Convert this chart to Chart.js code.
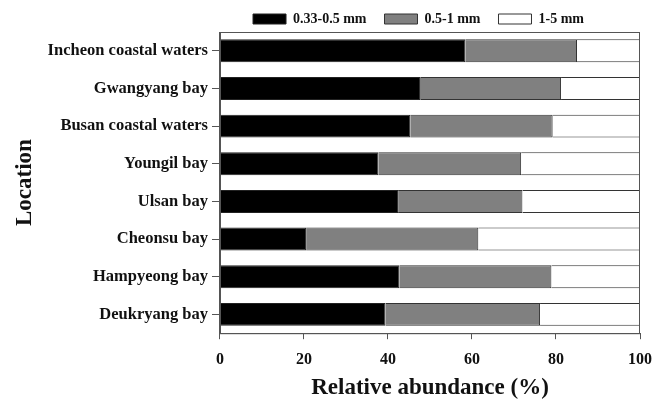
<!DOCTYPE html>
<html>
<head>
<meta charset="utf-8">
<script src="https://cdn.jsdelivr.net/npm/chart.js@4"></script>
<style>
  html, body { margin: 0; padding: 0; background: #fff; }
  #wrap { width: 671px; height: 407px; }
</style>
</head>
<body>
<div id="wrap"><canvas id="abundanceChart" width="671" height="407"></canvas></div>
<script>
const locations = [
    'Incheon coastal waters',
    'Gwangyang bay',
    'Busan coastal waters',
    'Youngil bay',
    'Ulsan bay',
    'Cheonsu bay',
    'Hampyeong bay',
    'Deukryang bay'
];
// percentages
const small = [58.4, 47.8, 45.3, 37.7, 42.4, 20.5, 42.7, 39.4];   // 0.33-0.5 mm
const medium = [26.6, 33.4, 33.9, 34.0, 29.6, 41.0, 36.2, 36.8];  // 0.5-1 mm
const large = [15.0, 18.8, 20.8, 28.3, 28.0, 38.5, 21.1, 23.8];   // 1-5 mm
const xTicks = [0, 20, 40, 60, 80, 100];

const serif = 'Liberation Serif';

// box round the plot area
const frame = {
    id: 'frame',
    afterDatasetsDraw(chart) {
        const a = chart.chartArea;
        const ctx = chart.ctx;
        ctx.save();
        ctx.strokeStyle = '#555';
        ctx.lineWidth = 1;
        ctx.strokeRect(a.left + 0.5, a.top + 0.5, a.right - a.left - 1, a.bottom - a.top);
        ctx.restore();
    }
};

// legend sits over the plot, a bit right of the canvas middle
const legendShift = {
    id: 'legendShift',
    afterLayout(chart) {
        const lg = chart.legend;
        lg.left += 93;
        lg.right += 93;
        lg.top += 4;
        lg.bottom += 4;
    }
};

let abundanceChart = new Chart(
    document.getElementById('abundanceChart'),
    {
        type: 'bar',
        data: {
            labels: locations,
            datasets: [{
                label: '0.33-0.5 mm',
                data: small,
                backgroundColor: '#000',
                borderColor: '#222',
                borderWidth: 1
            }, {
                label: '0.5-1 mm',
                data: medium,
                backgroundColor: '#808080',
                borderColor: '#333',
                borderWidth: 1
            }, {
                label: '1-5 mm',
                data: large,
                backgroundColor: '#fff',
                borderColor: '#333',
                borderWidth: 1
            }]
        },
        options: {
            indexAxis: 'y',
            responsive: false,
            animation: false,
            devicePixelRatio: 1,
            layout: { padding: { left: 11, right: 31, top: -10, bottom: 5 } },
            datasets: {
                bar: { categoryPercentage: 1, barPercentage: 0.61 }
            },
            scales: {
                x: {
                    stacked: true,
                    min: 0,
                    max: 100,
                    afterBuildTicks: (axis) => { axis.ticks = xTicks.map(v => ({ value: v })); },
                    grid: { drawOnChartArea: false, tickLength: 6, color: '#555' },
                    border: { color: '#555' },
                    ticks: {
                        color: '#111',
                        padding: 11,
                        font: { family: serif, size: 16, weight: 'bold' }
                    },
                    title: {
                        display: true,
                        text: 'Relative abundance (%)',
                        color: '#111',
                        padding: { top: -6, bottom: 0 },
                        font: { family: serif, size: 23, weight: 'bold' }
                    }
                },
                y: {
                    stacked: true,
                    grid: { drawOnChartArea: false, offset: false, tickLength: 8, color: '#555' },
                    border: { color: '#555' },
                    ticks: {
                        color: '#111',
                        padding: 4,
                        font: { family: serif, size: 16.5, weight: 'bold' }
                    },
                    title: {
                        display: true,
                        text: 'Location',
                        color: '#111',
                        padding: { top: 0, bottom: 5 },
                        font: { family: serif, size: 23, weight: 'bold' }
                    }
                }
            },
            plugins: {
                legend: {
                    display: true,
                    position: 'top',
                    align: 'center',
                    labels: {
                        boxWidth: 33,
                        boxHeight: 10,
                        padding: 18,
                        color: '#111',
                        font: { family: serif, size: 14, weight: 'bold' }
                    }
                },
                tooltip: { enabled: false }
            }
        },
        plugins: [frame, legendShift]
    });
</script>
</body>
</html>
